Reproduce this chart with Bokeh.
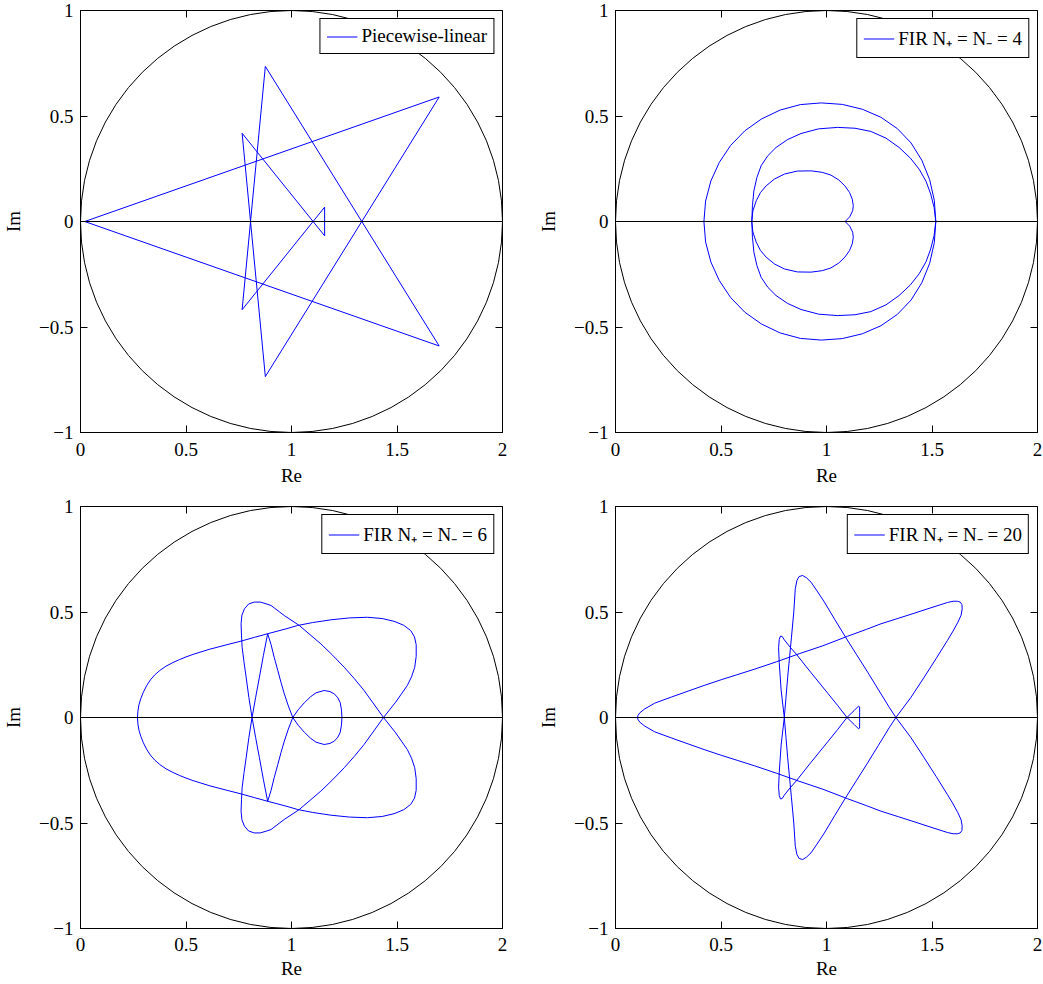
from bokeh.plotting import figure
from bokeh.layouts import gridplot
from bokeh.models import Range1d, FixedTicker, LinearAxis, Span, Legend, LegendItem
from bokeh.embed import file_html
from bokeh.resources import INLINE

FONT = "Liberation Serif"

# ---------------- data ----------------
x_ticks = [0, 0.5, 1, 1.5, 2]
x_tick_labels = ["0", "0.5", "1", "1.5", "2"]
y_ticks = [-1, -0.5, 0, 0.5, 1]
y_tick_labels = ["\u22121", "\u22120.5", "0", "0.5", "1"]

circle_x = [1.0]
circle_y = [0.0]
circle_d = [2.0]

labels = ["Piecewise-linear", "FIR N\u208a = N\u208b = 4",
          "FIR N\u208a = N\u208b = 6", "FIR N\u208a = N\u208b = 20"]

pw_pts = [(0.02, 0.0), (1.70, 0.59), (0.876, -0.735), (0.766, 0.418),
          (1.157, -0.068), (1.157, 0.068), (0.766, -0.418), (0.876, 0.735),
          (1.70, -0.59), (0.02, 0.0)]

fir4_pts = [
    # outer loop, upper half
    (0.419, 0.0), (0.427, 0.097), (0.452, 0.192), (0.492, 0.280), (0.546, 0.361),
    (0.613, 0.430), (0.692, 0.486), (0.780, 0.528), (0.876, 0.554), (0.975, 0.562),
    (1.075, 0.555), (1.170, 0.532), (1.258, 0.494), (1.336, 0.440), (1.401, 0.372),
    (1.452, 0.290), (1.489, 0.198), (1.511, 0.100), (1.518, 0.0),
    # middle loop, lower half
    (1.510, -0.066), (1.494, -0.130), (1.472, -0.190), (1.439, -0.248), (1.398, -0.300),
    (1.344, -0.351), (1.282, -0.395), (1.210, -0.427), (1.135, -0.442), (1.053, -0.446),
    (0.962, -0.439), (0.879, -0.417), (0.815, -0.388), (0.761, -0.351), (0.722, -0.312),
    (0.690, -0.264), (0.670, -0.208), (0.656, -0.146), (0.649, -0.075), (0.646, 0.0),
    # inner heart, upper half
    (0.651, 0.050), (0.667, 0.098), (0.687, 0.137), (0.714, 0.169), (0.753, 0.201),
    (0.801, 0.225), (0.862, 0.239), (0.927, 0.240), (0.980, 0.233), (1.021, 0.220),
    (1.058, 0.197), (1.087, 0.169), (1.109, 0.138), (1.122, 0.106), (1.127, 0.075),
    (1.124, 0.051), (1.110, 0.022), (1.088, 0.0),
    # inner heart, lower half
    (1.110, -0.022), (1.124, -0.051), (1.127, -0.075), (1.122, -0.106), (1.109, -0.138),
    (1.087, -0.169), (1.058, -0.197), (1.021, -0.220), (0.980, -0.233), (0.927, -0.240),
    (0.862, -0.239), (0.801, -0.225), (0.753, -0.201), (0.714, -0.169), (0.687, -0.137),
    (0.667, -0.098), (0.651, -0.050), (0.646, 0.0),
    # middle loop, upper half
    (0.649, 0.075), (0.656, 0.146), (0.670, 0.208), (0.690, 0.264), (0.722, 0.312),
    (0.761, 0.351), (0.815, 0.388), (0.879, 0.417), (0.962, 0.439), (1.053, 0.446),
    (1.135, 0.442), (1.210, 0.427), (1.282, 0.395), (1.344, 0.351), (1.398, 0.300),
    (1.439, 0.248), (1.472, 0.190), (1.494, 0.130), (1.510, 0.066), (1.518, 0.0),
    # outer loop, lower half
    (1.511, -0.100), (1.489, -0.198), (1.452, -0.290), (1.401, -0.372), (1.336, -0.440),
    (1.258, -0.494), (1.170, -0.532), (1.075, -0.555), (0.975, -0.562), (0.876, -0.554),
    (0.780, -0.528), (0.692, -0.486), (0.613, -0.430), (0.546, -0.361), (0.492, -0.280),
    (0.452, -0.192), (0.427, -0.097), (0.419, 0.0),
]

fir6_pts = [
    (0.270, 0.0), (0.272, 0.030), (0.277, 0.060), (0.286, 0.090), (0.298, 0.120),
    (0.313, 0.150), (0.331, 0.178), (0.352, 0.202), (0.376, 0.223), (0.405, 0.243),
    (0.435, 0.259), (0.468, 0.274), (0.500, 0.287), (0.533, 0.299), (0.610, 0.323),
    (0.690, 0.344), (0.761, 0.362),
    (0.825, 0.380), (0.887, 0.397), (0.974, 0.420), (1.029, 0.436), (1.100, 0.450),
    (1.187, 0.463), (1.275, 0.472), (1.360, 0.475), (1.430, 0.469), (1.486, 0.456),
    (1.532, 0.437), (1.565, 0.412), (1.583, 0.382), (1.591, 0.345), (1.591, 0.290),
    (1.584, 0.238), (1.569, 0.193), (1.549, 0.152), (1.494, 0.073), (1.436, 0.0),
    (1.390, -0.064), (1.344, -0.128), (1.297, -0.185), (1.250, -0.238), (1.195, -0.295),
    (1.139, -0.349), (1.037, -0.436), (0.966, -0.483), (0.903, -0.531), (0.879, -0.539),
    (0.852, -0.547), (0.824, -0.547), (0.797, -0.538), (0.777, -0.515), (0.765, -0.485),
    (0.761, -0.444), (0.763, -0.390), (0.766, -0.333), (0.775, -0.262), (0.785, -0.191),
    (0.798, -0.095), (0.813, 0.0), (0.830, 0.095), (0.848, 0.191), (0.867, 0.295),
    (0.887, 0.397),
    (0.903, 0.346), (0.918, 0.285), (0.935, 0.223), (0.950, 0.167), (0.966, 0.112),
    (0.985, 0.055), (1.006, 0.0), (1.032, -0.037), (1.061, -0.070), (1.090, -0.098),
    (1.116, -0.117), (1.155, -0.128), (1.182, -0.123), (1.203, -0.112), (1.220, -0.093),
    (1.231, -0.070), (1.237, -0.035), (1.239, 0.0), (1.237, 0.035), (1.231, 0.070),
    (1.220, 0.093), (1.203, 0.112), (1.182, 0.123), (1.155, 0.128), (1.116, 0.117),
    (1.090, 0.098), (1.061, 0.070), (1.032, 0.037), (1.006, 0.0), (0.985, -0.055),
    (0.966, -0.112), (0.950, -0.167), (0.935, -0.223), (0.918, -0.285), (0.903, -0.346),
    (0.887, -0.397),
    (0.867, -0.295), (0.848, -0.191), (0.830, -0.095), (0.813, 0.0), (0.798, 0.095),
    (0.785, 0.191), (0.775, 0.262), (0.766, 0.333), (0.763, 0.390), (0.761, 0.444),
    (0.765, 0.485), (0.777, 0.515), (0.797, 0.538), (0.824, 0.547), (0.852, 0.547),
    (0.879, 0.539), (0.903, 0.531), (0.966, 0.483), (1.037, 0.436), (1.139, 0.349),
    (1.195, 0.295), (1.250, 0.238), (1.297, 0.185), (1.344, 0.128), (1.390, 0.064),
    (1.436, 0.0),
    (1.494, -0.073), (1.549, -0.152), (1.569, -0.193), (1.584, -0.238), (1.591, -0.290),
    (1.591, -0.345), (1.583, -0.382), (1.565, -0.412), (1.532, -0.437), (1.486, -0.456),
    (1.430, -0.469), (1.360, -0.475), (1.275, -0.472), (1.187, -0.463), (1.100, -0.450),
    (1.029, -0.436), (0.974, -0.420), (0.887, -0.397), (0.825, -0.380), (0.761, -0.362),
    (0.690, -0.344), (0.610, -0.323), (0.533, -0.299), (0.500, -0.287), (0.468, -0.274),
    (0.435, -0.259), (0.405, -0.243), (0.376, -0.223), (0.352, -0.202), (0.331, -0.178),
    (0.313, -0.150), (0.298, -0.120), (0.286, -0.090), (0.277, -0.060), (0.272, -0.030),
    (0.270, 0.0),
]

fir20_pts = [
    (0.104, 0.0), (0.107, 0.010), (0.115, 0.022), (0.139, 0.041), (0.186, 0.068),
    (0.265, 0.097), (0.344, 0.125), (0.420, 0.152), (0.501, 0.179), (0.580, 0.204),
    (0.659, 0.229), (0.763, 0.264), (0.870, 0.302), (0.983, 0.340), (1.100, 0.385),
    (1.190, 0.418), (1.258, 0.444), (1.340, 0.470), (1.415, 0.494), (1.495, 0.520),
    (1.573, 0.545), (1.600, 0.551), (1.620, 0.551), (1.634, 0.547), (1.642, 0.535),
    (1.643, 0.515), (1.638, 0.485), (1.623, 0.452), (1.600, 0.410), (1.573, 0.365),
    (1.520, 0.280), (1.463, 0.191), (1.400, 0.095), (1.329, 0.0),
    (1.297, -0.049), (1.246, -0.132), (1.195, -0.215), (1.143, -0.297), (1.092, -0.378),
    (1.040, -0.463), (0.990, -0.547), (0.955, -0.600), (0.927, -0.641), (0.905, -0.662),
    (0.887, -0.673), (0.870, -0.668), (0.860, -0.650), (0.852, -0.610), (0.845, -0.500),
    (0.834, -0.381), (0.825, -0.286), (0.816, -0.191), (0.808, -0.095), (0.800, 0.0),
    (0.785, 0.130), (0.776, 0.260), (0.773, 0.330), (0.776, 0.370), (0.782, 0.386),
    (0.790, 0.384), (0.800, 0.368),
    (0.828, 0.333), (0.857, 0.300), (0.927, 0.212), (1.006, 0.115), (1.052, 0.058),
    (1.097, 0.0), (1.131, -0.033), (1.152, -0.054), (1.157, -0.050), (1.157, -0.025),
    (1.157, 0.0), (1.157, 0.025), (1.157, 0.050), (1.152, 0.054), (1.131, 0.033),
    (1.097, 0.0), (1.052, -0.058), (1.006, -0.115), (0.927, -0.212), (0.857, -0.300),
    (0.828, -0.333), (0.800, -0.368), (0.790, -0.384), (0.782, -0.386), (0.776, -0.370),
    (0.773, -0.330), (0.776, -0.260), (0.785, -0.130), (0.800, 0.0),
    (0.808, 0.095), (0.816, 0.191), (0.825, 0.286), (0.834, 0.381), (0.845, 0.500),
    (0.852, 0.610), (0.860, 0.650), (0.870, 0.668), (0.887, 0.673), (0.905, 0.662),
    (0.927, 0.641), (0.955, 0.600), (0.990, 0.547), (1.040, 0.463), (1.092, 0.378),
    (1.143, 0.297), (1.195, 0.215), (1.246, 0.132), (1.297, 0.049), (1.329, 0.0),
    (1.400, -0.095), (1.463, -0.191), (1.520, -0.280), (1.573, -0.365), (1.600, -0.410),
    (1.623, -0.452), (1.638, -0.485), (1.643, -0.515), (1.642, -0.535), (1.634, -0.547),
    (1.620, -0.551), (1.600, -0.551), (1.573, -0.545), (1.495, -0.520), (1.415, -0.494),
    (1.340, -0.470), (1.258, -0.444), (1.190, -0.418), (1.100, -0.385), (0.983, -0.340),
    (0.870, -0.302), (0.763, -0.264), (0.659, -0.229), (0.580, -0.204), (0.501, -0.179),
    (0.420, -0.152), (0.344, -0.125), (0.265, -0.097), (0.186, -0.068), (0.139, -0.041),
    (0.115, -0.022), (0.107, -0.010), (0.104, 0.0),
]

series = [pw_pts, fir4_pts, fir6_pts, fir20_pts]

FS = "19px"


def style_axis(ax, ticks, tick_labels):
    ax.ticker = FixedTicker(ticks=ticks)
    ax.major_label_overrides = {t: l for t, l in zip(ticks, tick_labels)}
    ax.major_tick_in = 7
    ax.major_tick_out = 0
    ax.minor_tick_line_color = None
    ax.major_tick_line_color = "black"
    ax.axis_line_color = "black"
    ax.major_label_text_font = FONT
    ax.major_label_text_font_size = FS
    ax.major_label_text_color = "black"
    ax.axis_label_text_font = FONT
    ax.axis_label_text_font_size = FS
    ax.axis_label_text_font_style = "normal"
    ax.axis_label_text_color = "black"


def mirror_axis(ticks):
    ax = LinearAxis(ticker=FixedTicker(ticks=ticks))
    ax.major_tick_in = 7
    ax.major_tick_out = 0
    ax.minor_tick_line_color = None
    ax.major_tick_line_color = "black"
    ax.axis_line_color = None
    ax.major_label_text_color = None
    ax.major_label_text_font_size = "1px"
    ax.major_label_standoff = 0
    return ax


def make(pts, label, width, height, bl, br, bt, bb, xstand):
    p = figure(width=width, height=height, x_range=Range1d(0, 2), y_range=Range1d(-1, 1),
               output_backend="svg", toolbar_location=None, tools="",
               min_border_left=bl, min_border_right=br, min_border_top=bt,
               min_border_bottom=bb, x_axis_label="Re", y_axis_label="Im")
    p.grid.visible = False
    p.outline_line_color = "black"
    p.outline_line_alpha = 1
    p.outline_line_width = 1
    p.background_fill_color = "white"
    p.border_fill_color = "white"

    style_axis(p.xaxis[0], x_ticks, x_tick_labels)
    style_axis(p.yaxis[0], y_ticks, y_tick_labels)
    p.xaxis[0].major_label_standoff = xstand[0]
    p.xaxis[0].axis_label_standoff = xstand[1]
    p.yaxis[0].major_label_standoff = 7
    p.yaxis[0].axis_label_standoff = 12

    p.add_layout(mirror_axis(x_ticks), "above")
    p.add_layout(mirror_axis(y_ticks), "right")

    p.ellipse(x=circle_x, y=circle_y, width=circle_d, height=circle_d,
              fill_color=None, line_color="black", line_width=1)
    p.add_layout(Span(location=0, dimension="width", line_color="black", line_width=1))

    xs = [a for a, b in pts]
    ys = [b for a, b in pts]
    r = p.line(xs, ys, line_color="#0000ff", line_width=1)

    leg = Legend(items=[LegendItem(label=label, renderers=[r])], location="top_right")
    leg.label_text_font = FONT
    leg.label_text_font_size = FS
    leg.label_text_color = "black"
    leg.border_line_color = "black"
    leg.border_line_width = 1
    leg.border_line_alpha = 1
    leg.background_fill_color = "white"
    leg.background_fill_alpha = 1
    leg.glyph_width = 31
    leg.glyph_height = 19
    leg.label_height = 19
    leg.label_standoff = 4
    leg.padding = 6
    leg.spacing = 0
    leg.margin = 8
    p.add_layout(leg)
    return p


# page origin is the window's top-left corner
p1 = make(series[0], labels[0], 535, 497, 79, 33, 10, 65, (10, 6))
p2 = make(series[1], labels[1], 508, 497, 79, 6, 10, 65, (10, 6))
p3 = make(series[2], labels[2], 535, 486, 79, 33, 9, 55, (9, 4))
p4 = make(series[3], labels[3], 508, 486, 79, 6, 9, 55, (9, 4))

grid = gridplot([[p1, p2], [p3, p4]], toolbar_location=None)

open("out.html", "w").write(file_html(grid, INLINE))
